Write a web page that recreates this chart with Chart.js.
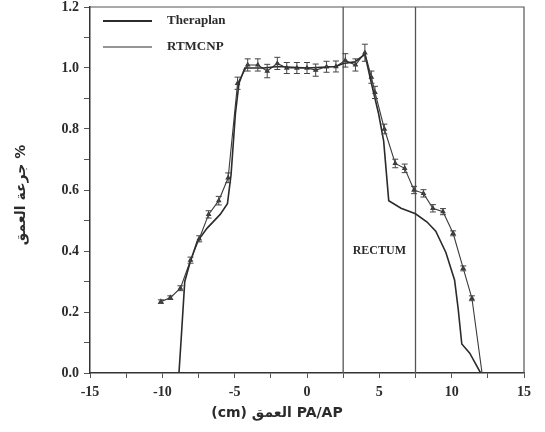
<!DOCTYPE html>
<html>
<head>
<meta charset="utf-8">
<script src="https://cdn.jsdelivr.net/npm/chart.js@4.4.1/dist/chart.umd.min.js"></script>
<style>
  html, body { margin: 0; padding: 0; background: #fff; }
  #wrap { width: 545px; height: 432px; position: relative; }
</style>
</head>
<body>
<div id="wrap"><canvas id="doseChart" width="545" height="432"></canvas></div>
<script>
// Theraplan (solid line)
const theraX = [-8.85, -8.7, -8.45, -8.1, -7.6, -6.9, -6.0, -5.5, -5.25, -4.95, -4.7, -4.3, -3.0, -2.0, 0, 2.0, 2.5, 3.3, 4.0, 4.5, 4.95, 5.3, 5.65, 6.5, 7.5, 8.3, 8.9, 9.6, 10.2, 10.45, 10.7, 11.25, 12.0];
const theraY = [0, 0.11, 0.30, 0.36, 0.43, 0.475, 0.52, 0.555, 0.65, 0.85, 0.95, 1.0, 1.0, 1.005, 1.0, 1.005, 1.015, 1.02, 1.045, 0.94, 0.85, 0.76, 0.565, 0.54, 0.522, 0.495, 0.465, 0.395, 0.305, 0.21, 0.095, 0.065, 0];

// RTMCNP (markers + error bars)
const mcnpX = [-10.1, -9.45, -8.75, -8.05, -7.45, -6.8, -6.1, -5.45, -4.8, -4.1, -3.4, -2.75, -2.05, -1.4, -0.7, 0, 0.6, 1.35, 2.0, 2.65, 3.35, 4.0, 4.45, 4.7, 5.35, 6.1, 6.75, 7.4, 8.05, 8.7, 9.4, 10.1, 10.8, 11.4, 12.1];
const mcnpY = [0.234, 0.247, 0.278, 0.37, 0.44, 0.52, 0.565, 0.64, 0.95, 1.01, 1.01, 0.99, 1.015, 1.0, 1.0, 1.0, 0.993, 1.004, 1.005, 1.025, 1.01, 1.05, 0.97, 0.92, 0.80, 0.687, 0.671, 0.60, 0.589, 0.54, 0.529, 0.458, 0.343, 0.245, 0];
const mcnpErr = [0.006, 0.006, 0.008, 0.01, 0.01, 0.012, 0.014, 0.016, 0.02, 0.02, 0.02, 0.022, 0.02, 0.018, 0.018, 0.018, 0.02, 0.018, 0.018, 0.022, 0.02, 0.028, 0.02, 0.02, 0.016, 0.014, 0.014, 0.012, 0.012, 0.012, 0.01, 0.008, 0.008, 0.008, 0];

// rectum boundaries
const rectumBounds = [2.5, 7.5];
const rectumLabel = { text: 'RECTUM', x: 5, y: 0.40 };

const xLabels = ['-15', '-10', '-5', '0', '5', '10', '15'];
const yLabels = ['0.0', '0.2', '0.4', '0.6', '0.8', '1.0', '1.2'];

const legendItems = ['Theraplan', 'RTMCNP'];
const xTitle = '(cm) العمق PA/AP';
const yTitle = 'جرعة العمق %';

const ink = '#2b2b2b';

function toPoints(xs, ys) {
    return xs.map((x, i) => ({ x: x, y: ys[i] }));
}

const boundSets = rectumBounds.map(b => ({
    label: 'bound',
    data: [{ x: b, y: 0 }, { x: b, y: 1.2 }],
    borderColor: '#555',
    borderWidth: 1.3,
    pointRadius: 0,
    showLine: true
}));

// error bars for RTMCNP
const errorBarPlugin = {
    id: 'errorBars',
    afterDatasetsDraw(chart) {
        const meta = chart.getDatasetMeta(1);
        const yScale = chart.scales.y;
        const ctx = chart.ctx;
        ctx.save();
        ctx.strokeStyle = '#444';
        ctx.lineWidth = 1;
        meta.data.forEach((pt, i) => {
            const e = mcnpErr[i];
            if (!e) return;
            const top = yScale.getPixelForValue(mcnpY[i] + e);
            const bot = yScale.getPixelForValue(mcnpY[i] - e);
            ctx.beginPath();
            ctx.moveTo(pt.x, top);
            ctx.lineTo(pt.x, bot);
            ctx.moveTo(pt.x - 3, top);
            ctx.lineTo(pt.x + 3, top);
            ctx.moveTo(pt.x - 3, bot);
            ctx.lineTo(pt.x + 3, bot);
            ctx.stroke();
        });
        ctx.restore();
    }
};

// legend, rectum text and axis titles
const annotatePlugin = {
    id: 'annotate',
    afterDraw(chart) {
        const ctx = chart.ctx;
        const area = chart.chartArea;
        const xs = chart.scales.x, ys = chart.scales.y;
        ctx.save();
        ctx.fillStyle = ink;
        ctx.strokeStyle = ink;

        // legend
        const lx = area.left + 13, ly = area.top + 14;
        ctx.lineWidth = 2.2;
        ctx.beginPath(); ctx.moveTo(lx, ly); ctx.lineTo(lx + 49, ly); ctx.stroke();
        ctx.lineWidth = 1;
        ctx.beginPath(); ctx.moveTo(lx, ly + 26); ctx.lineTo(lx + 49, ly + 26); ctx.stroke();
        ctx.font = 'bold 13px "Liberation Serif"';
        ctx.textBaseline = 'middle';
        ctx.textAlign = 'left';
        ctx.fillText(legendItems[0], lx + 64, ly);
        ctx.fillText(legendItems[1], lx + 64, ly + 26);

        // rectum label
        ctx.font = 'bold 12px "Liberation Serif"';
        ctx.textAlign = 'center';
        ctx.fillText(rectumLabel.text, xs.getPixelForValue(rectumLabel.x), ys.getPixelForValue(rectumLabel.y));

        // x title
        ctx.font = 'bold 14px "DejaVu Sans"';
        ctx.fillText(xTitle, 277, 413);

        // y title
        ctx.translate(21, 195);
        ctx.rotate(-Math.PI / 2);
        ctx.font = 'bold 14px "DejaVu Sans"';
        ctx.fillText(yTitle, 0, 0);
        ctx.restore();
    }
};

const chart = new Chart(document.getElementById('doseChart'), {
    type: 'scatter',
    data: {
        datasets: [
            {
                label: legendItems[0],
                data: toPoints(theraX, theraY),
                borderColor: ink,
                borderWidth: 1.6,
                pointRadius: 0,
                showLine: true
            },
            {
                label: legendItems[1],
                data: toPoints(mcnpX, mcnpY),
                borderColor: '#3a3a3a',
                backgroundColor: '#3a3a3a',
                borderWidth: 1.1,
                pointStyle: 'triangle',
                pointRadius: mcnpX.map((x, i) => i === mcnpX.length - 1 ? 0 : 2.2),
                showLine: true
            },
            ...boundSets
        ]
    },
    options: {
        responsive: false,
        animation: false,
        layout: { padding: { top: 7, right: 21, left: 0, bottom: 0 } },
        plugins: {
            legend: { display: false },
            tooltip: { enabled: false }
        },
        scales: {
            x: {
                type: 'linear',
                min: -15,
                max: 15,
                afterFit: s => { s.height = 59; s.paddingLeft = 0; s.paddingRight = 0; },
                afterBuildTicks: s => {
                    s.ticks = [];
                    for (let v = -15; v <= 15; v += 2.5) s.ticks.push({ value: v });
                },
                border: { color: '#333', width: 1.5 },
                grid: { drawOnChartArea: false, tickLength: 5, color: '#555' },
                ticks: {
                    color: ink,
                    font: { family: 'Liberation Serif', weight: 'bold', size: 14 },
                    padding: 6,
                    maxRotation: 0,
                    autoSkip: false,
                    callback: v => {
                        const i = xLabels.indexOf(String(v));
                        return i >= 0 ? xLabels[i] : '';
                    }
                }
            },
            y: {
                type: 'linear',
                min: 0,
                max: 1.2,
                afterFit: s => { s.width = 90; s.paddingTop = 0; s.paddingBottom = 0; },
                afterBuildTicks: s => {
                    s.ticks = [];
                    for (let k = 0; k <= 12; k++) s.ticks.push({ value: k / 10 });
                },
                border: { color: '#333', width: 1.5 },
                grid: { drawOnChartArea: false, tickLength: 6, color: '#555' },
                ticks: {
                    color: ink,
                    font: { family: 'Liberation Serif', weight: 'bold', size: 14 },
                    padding: 5,
                    autoSkip: false,
                    callback: v => {
                        const k = Math.round(v * 10);
                        return k % 2 === 0 ? yLabels[k / 2] : '';
                    }
                }
            }
        }
    },
    plugins: [errorBarPlugin, annotatePlugin, {
        id: 'frame',
        beforeDatasetsDraw(c) {
            const a = c.chartArea, ctx = c.ctx;
            ctx.save();
            ctx.strokeStyle = '#555';
            ctx.lineWidth = 1.2;
            ctx.beginPath();
            ctx.moveTo(a.left, a.top);
            ctx.lineTo(a.right, a.top);
            ctx.lineTo(a.right, a.bottom);
            ctx.stroke();
            ctx.restore();
        }
    }]
});
</script>
</body>
</html>
